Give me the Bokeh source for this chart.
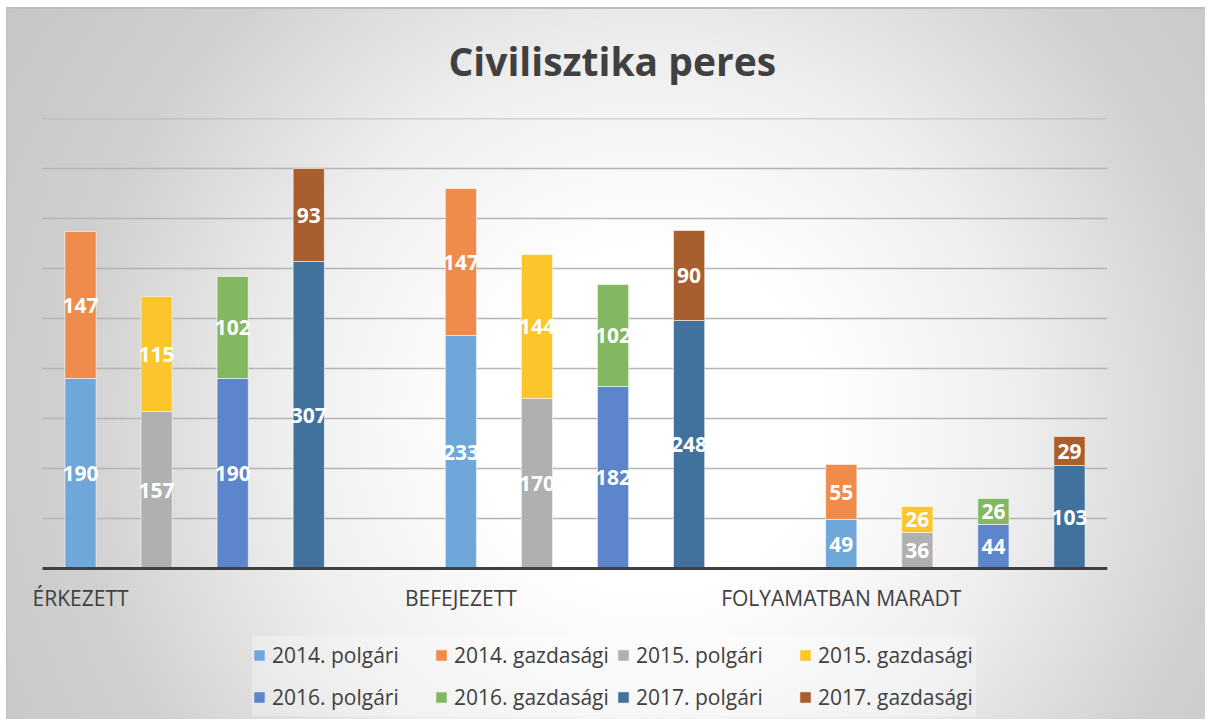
from bokeh.plotting import figure
from bokeh.models import (ColumnDataSource, Range1d, Legend, LegendItem)
from bokeh.core.properties import value
from bokeh.embed import file_html
from bokeh.resources import INLINE

# ---------------- data ----------------
categories = ["ÉRKEZETT", "BEFEJEZETT", "FOLYAMATBAN MARADT"]
years = ["2014.", "2015.", "2016.", "2017."]
polgari_2014 = [190, 233, 49]
gazdasagi_2014 = [147, 147, 55]
polgari_2015 = [157, 170, 36]
gazdasagi_2015 = [115, 144, 26]
polgari_2016 = [190, 182, 44]
gazdasagi_2016 = [102, 102, 26]
polgari_2017 = [307, 248, 103]
gazdasagi_2017 = [93, 90, 29]
grid_values = [50, 100, 150, 200, 250, 300, 350, 400, 450]

polgari = [polgari_2014, polgari_2015, polgari_2016, polgari_2017]
gazdasagi = [gazdasagi_2014, gazdasagi_2015, gazdasagi_2016, gazdasagi_2017]

polgari_colors = ["#70a7da", "#b0b0b0", "#5d85cb", "#41729e"]
gazdasagi_colors = ["#ef8b4b", "#fbc52b", "#84b761", "#a95e2d"]

FONT = "Open Sans"
TXT = "#404040"

group_size = len(years) + 1          # one empty slot after each group
n_slots = len(categories) * group_size - 1

# layout (pixels)
W, H = 1205, 719
plot_left, plot_right, plot_top = 42, 1107, 118
frame_left = 6
slot_px = (plot_right - plot_left) / n_slots
x_start = -0.5 - (plot_left - frame_left) / slot_px

# frame spans the plot area plus the space around it (for labels + legend);
# 1 value unit == 1 px vertically
p = figure(width=W, height=H, output_backend="svg", toolbar_location=None,
           x_range=Range1d(x_start, n_slots - 0.5), y_range=Range1d(-151, 450),
           min_border_left=frame_left, min_border_right=W - plot_right,
           min_border_top=plot_top, min_border_bottom=0)

p.background_fill_color = None
p.border_fill_color = None
p.outline_line_color = None
p.styles = {
    "background": "radial-gradient(circle at 650px 420px, #ffffff 0px, #ffffff 170px, "
                  "#eeeeee 370px, #d0d0d0 580px, #c4c4c4 800px)",
    "box-shadow": "inset 6px 7px 0 0 #ffffff, inset 7px 9px 0 0 #bfbfbf",
}

# title
p.title.text = "Civilisztika peres"
p.title.text_font = FONT
p.title.text_font_size = "39px"
p.title.text_font_style = "bold"
p.title.text_color = TXT
p.title.align = "left"
p.title.offset = 442
p.title.standoff = 63

p.xaxis.visible = False
p.yaxis.visible = False
p.xgrid.visible = False
p.ygrid.visible = False

# horizontal gridlines across the category span
gsrc = ColumnDataSource(dict(x0=[-0.5] * len(grid_values),
                             x1=[n_slots - 0.5] * len(grid_values),
                             y=grid_values))
p.segment(x0="x0", x1="x1", y0="y", y1="y", source=gsrc,
          line_color="#b4b4b4", line_width=1.5)

tick_pos = [ci * group_size for ci in range(len(categories))]

legend_items = []
for yi, yr in enumerate(years):
    xs = [ci * group_size + yi for ci in range(len(categories))]
    pv = polgari[yi]
    gv = gazdasagi[yi]
    src = ColumnDataSource(dict(
        x=xs, polgari=pv, gazdasagi=gv,
        y_p=[v / 2 for v in pv],
        y_g=[a + b / 2 for a, b in zip(pv, gv)],
        t_p=[str(v) for v in pv],
        t_g=[str(v) for v in gv],
    ))
    rs = p.vbar_stack(["polgari", "gazdasagi"], x="x", width=0.41, source=src,
                      color=[polgari_colors[yi], gazdasagi_colors[yi]],
                      line_color="white", line_alpha=0.55, line_width=1)
    for col in ("p", "g"):
        p.text(x="x", y="y_" + col, text="t_" + col, source=src,
               text_font=value(FONT), text_font_style="bold",
               text_font_size="21px", text_color="white",
               text_align="center", text_baseline="middle")
    legend_items.append(LegendItem(label=yr + " polgári", renderers=[rs[0]]))
    legend_items.append(LegendItem(label=yr + " gazdasági", renderers=[rs[1]]))

# category axis: baseline line + category labels
p.segment(x0=[-0.5], x1=[n_slots - 0.5], y0=[0], y1=[0],
          line_color=TXT, line_width=3)
cat_src = ColumnDataSource(dict(x=tick_pos, y=[0] * len(tick_pos), text=categories))
p.text(x="x", y="y", text="text", source=cat_src, y_offset=29,
       text_font=value(FONT), text_font_size="21px", text_color=TXT,
       text_align="center", text_baseline="middle")

legend = Legend(items=legend_items, orientation="horizontal", ncols=4,
                location=(246, 3), margin=0, padding=4, spacing=4,
                glyph_width=14, glyph_height=14, label_standoff=6,
                label_width=158, label_height=38,
                label_text_font=FONT, label_text_font_size="21px",
                label_text_color=TXT,
                background_fill_color="white", background_fill_alpha=0.3,
                border_line_color=None)
p.add_layout(legend, "center")

open("out.html", "w").write(file_html(p, INLINE))
